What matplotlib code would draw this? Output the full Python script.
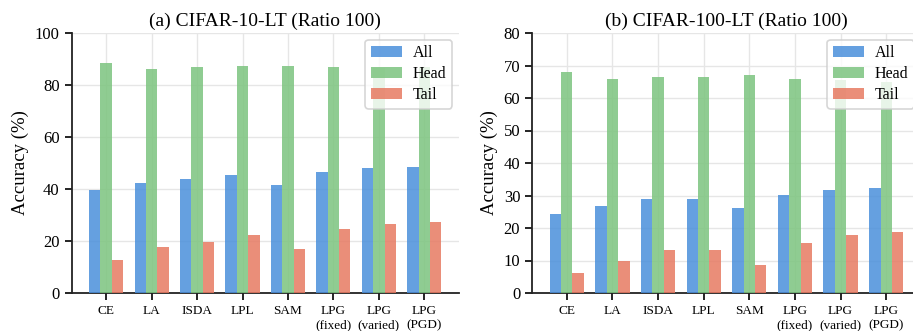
import numpy as np
import matplotlib.pyplot as plt

plt.rcParams['font.family'] = ['Liberation Serif', 'DejaVu Serif']

methods = ['CE', 'LA', 'ISDA', 'LPL', 'SAM', 'LPG\n(fixed)', 'LPG\n(varied)', 'LPG\n(PGD)']

c10_all = [39.5, 42.2, 43.7, 45.3, 41.4, 46.4, 48.0, 48.3]
c10_head = [88.6, 86.3, 87.1, 87.5, 87.5, 87.1, 86.6, 86.8]
c10_tail = [12.7, 17.6, 19.6, 22.3, 16.9, 24.6, 26.5, 27.2]

c100_all = [24.2, 26.7, 28.8, 28.8, 26.1, 30.1, 31.6, 32.2]
c100_head = [68.1, 66.0, 66.6, 66.6, 67.2, 66.0, 65.4, 64.9]
c100_tail = [6.1, 9.8, 13.2, 13.2, 8.6, 15.3, 17.8, 18.7]

colors = ['#4a8fdb', '#7cc47f', '#e77a62']
W, H = 913, 331

fig = plt.figure(figsize=(W / 100, H / 100), dpi=100)
ax1 = fig.add_axes([71.5 / W, 1 - 293 / H, (459 - 71.5) / W, 260 / H])
ax2 = fig.add_axes([532 / W, 1 - 293 / H, (921 - 532) / W, 260 / H])


def draw(ax, allv, head, tail, title, ymax):
    x = np.arange(len(methods))
    w = 0.25
    ax.bar(x - w, allv, w, color=colors[0], alpha=0.85, label='All', zorder=3)
    ax.bar(x, head, w, color=colors[1], alpha=0.85, label='Head', zorder=3)
    ax.bar(x + w, tail, w, color=colors[2], alpha=0.85, label='Tail', zorder=3)
    ax.set_xticks(x)
    ax.set_xticklabels(methods, fontsize=9.5, linespacing=1.15)
    ax.set_ylim(0, ymax)
    ax.set_ylabel('Accuracy (%)', fontsize=13.5)
    ax.set_title(title, fontsize=14, pad=5)
    ax.tick_params(axis='y', labelsize=12, length=5, width=1.2, direction='out')
    ax.tick_params(axis='x', length=5, width=1.2, direction='out', pad=4)
    ax.grid(True, color='#e6e6e6', lw=1, zorder=0)
    for s in ('top', 'right'):
        ax.spines[s].set_visible(False)
    for s in ('left', 'bottom'):
        ax.spines[s].set_linewidth(1.3)
        ax.spines[s].set_color('#222222')
    leg = ax.legend(loc='upper right', fontsize=11.5, frameon=True, fancybox=True,
                    handlelength=1.95, handleheight=0.7, handletextpad=0.7,
                    borderpad=0.33, labelspacing=0.31, borderaxespad=0.45)
    leg.get_frame().set_edgecolor('#cccccc')
    leg.get_frame().set_linewidth(1.2)
    leg.get_frame().set_alpha(0.8)


draw(ax1, c10_all, c10_head, c10_tail, '(a) CIFAR-10-LT (Ratio 100)', 100)
draw(ax2, c100_all, c100_head, c100_tail, '(b) CIFAR-100-LT (Ratio 100)', 80)
ax1.set_yticks(np.arange(0, 101, 20))
ax2.set_yticks(np.arange(0, 81, 10))

fig.savefig('out.png', dpi=100)
